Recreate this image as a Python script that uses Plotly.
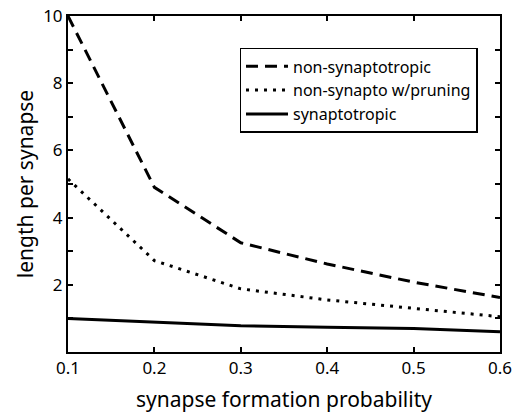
import plotly.graph_objects as go

prob = [0.1, 0.2, 0.3, 0.4, 0.5, 0.6]
non_synaptotropic = [10.0, 4.9, 3.25, 2.62, 2.08, 1.62]
non_synapto_pruning = [5.15, 2.72, 1.88, 1.55, 1.3, 1.05]
synaptotropic = [1.0, 0.89, 0.78, 0.74, 0.7, 0.6]

y_ticks = list(range(1, 11))
y_labels = [str(v) if v % 2 == 0 else "" for v in y_ticks]
x_ticks = [0.1, 0.2, 0.3, 0.4, 0.5, 0.6]
x_labels = ["0.1", "0.2", "0.3", "0.4", "0.5", "0.6"]

FONT = "Noto Sans"

fig = go.Figure()
fig.add_trace(go.Scatter(x=prob, y=non_synaptotropic, mode="lines", name="non-synaptotropic",
                         line=dict(color="black", width=3, dash="12px,7px")))
fig.add_trace(go.Scatter(x=prob, y=non_synapto_pruning, mode="lines", name="non-synapto w/pruning",
                         line=dict(color="black", width=3, dash="3px,6px")))
fig.add_trace(go.Scatter(x=prob, y=synaptotropic, mode="lines", name="synaptotropic",
                         line=dict(color="black", width=3)))

fig.update_layout(
    width=518, height=413,
    margin=dict(l=68, r=18, t=16, b=61),
    paper_bgcolor="white", plot_bgcolor="white",
    font=dict(family=FONT, color="black", size=16),
    showlegend=True,
    legend=dict(x=0.397, y=0.905, xanchor="left", yanchor="top",
                bordercolor="black", borderwidth=1.5, bgcolor="white",
                font=dict(size=16, family=FONT), tracegroupgap=0, itemwidth=42),
    xaxis=dict(range=[0.1, 0.6], tickvals=x_ticks, ticktext=x_labels,
               ticks="inside", ticklen=5, tickwidth=1.5, tickcolor="black",
               showline=True, linecolor="black", linewidth=2, mirror="ticks",
               showgrid=False, zeroline=False, tickfont=dict(size=17), automargin=False,
               title=dict(text="synapse formation probability", font=dict(size=21), standoff=14)),
    yaxis=dict(range=[0, 10], tickvals=y_ticks, ticktext=y_labels,
               ticks="inside", ticklen=5, tickwidth=1.5, tickcolor="black",
               showline=True, linecolor="black", linewidth=2, mirror="ticks",
               showgrid=False, zeroline=False, tickfont=dict(size=17), automargin=False,
               title=dict(text="length per synapse", font=dict(size=21), standoff=4)),
)

fig.write_html("out.html")
